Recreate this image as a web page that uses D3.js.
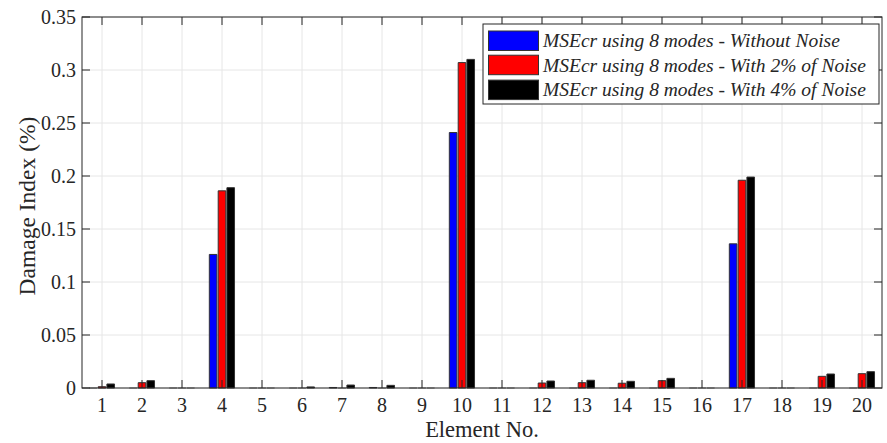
<!DOCTYPE html>
<html>
<head>
<meta charset="utf-8">
<script src="https://cdn.jsdelivr.net/npm/d3@7"></script>
<style>
  html, body { margin: 0; padding: 0; background: #fff; }
  svg { display: block; }
  svg text { font-family: 'Liberation Serif', Tinos, 'DejaVu Serif', serif; }
</style>
</head>
<body>
<svg id="chart" width="887" height="443"></svg>
<script>
// Damage index per element, three identification cases
const elements = d3.range(1, 21);
const withoutNoise = [0, 0, 0, 0.126, 0, 0, 0.0005, 0.0005, 0, 0.241, 0, 0, 0, 0, 0, 0, 0.136, 0, 0, 0];
const noise2 = [0.0012, 0.005, 0, 0.186, 0, 0, 0, 0, 0, 0.307, 0, 0.0047, 0.005, 0.0045, 0.0069, 0, 0.196, 0, 0.011, 0.0135];
const noise4 = [0.0038, 0.0069, 0, 0.189, 0, 0.001, 0.0028, 0.0025, 0, 0.310, 0, 0.0066, 0.0073, 0.0063, 0.0091, 0, 0.199, 0, 0.0132, 0.0154];
const seriesNames = [
  "MSEcr using 8 modes - Without Noise",
  "MSEcr using 8 modes - With 2% of Noise",
  "MSEcr using 8 modes - With 4% of Noise"
];
const seriesColors = ["#0000ff", "#ff0000", "#000000"];
const yTicks = [0, 0.05, 0.1, 0.15, 0.2, 0.25, 0.3, 0.35];
const seriesValues = [withoutNoise, noise2, noise4];

const FONT = "'Liberation Serif', Tinos, 'DejaVu Serif', serif";
const svg = d3.select("#chart");
const m = { left: 82, right: 882, top: 17, bottom: 388 };
const axisColor = "#262626";

const x = d3.scaleLinear().domain([0.5, 20.5]).range([m.left, m.right]);
const y = d3.scaleLinear().domain([0, 0.35]).range([m.bottom, m.top]);

// grid
const grid = svg.append("g");
grid.selectAll(".gx").data(elements).join("line")
  .attr("x1", d => x(d)).attr("x2", d => x(d))
  .attr("y1", m.top).attr("y2", m.bottom)
  .attr("stroke", "#e6e6e6").attr("stroke-width", 1);
grid.selectAll(".gy").data(yTicks).join("line")
  .attr("x1", m.left).attr("x2", m.right)
  .attr("y1", d => y(d)).attr("y2", d => y(d))
  .attr("stroke", "#e6e6e6").attr("stroke-width", 1);

// grouped bars
const offsets = [-0.222, 0, 0.218];
const barW = 0.19;
seriesValues.forEach((vals, s) => {
  svg.append("g").selectAll("path").data(vals).join("path")
    .attr("d", (v, i) => {
      const c = elements[i] + offsets[s];
      const x0 = x(c - barW / 2), x1 = x(c + barW / 2);
      const y0 = y(0), y1 = y(v);
      return `M${x0},${y0}V${y1}H${x1}V${y0}Z`;
    })
    .attr("fill", seriesColors[s])
    .attr("stroke", v => v === 0 ? "#9a9a9a" : "#333")
    .attr("stroke-width", 1);
});

// axes (ticks pointing inward, box around the plot)
const tickLen = 8;
const ax = svg.append("g").attr("stroke", axisColor).attr("stroke-width", 1);
ax.append("rect")
  .attr("x", m.left).attr("y", m.top)
  .attr("width", m.right - m.left).attr("height", m.bottom - m.top)
  .attr("fill", "none");
elements.forEach(d => {
  ax.append("line").attr("x1", x(d)).attr("x2", x(d)).attr("y1", m.bottom).attr("y2", m.bottom - tickLen);
  ax.append("line").attr("x1", x(d)).attr("x2", x(d)).attr("y1", m.top).attr("y2", m.top + tickLen);
});
yTicks.forEach(d => {
  ax.append("line").attr("x1", m.left).attr("x2", m.left + tickLen).attr("y1", y(d)).attr("y2", y(d));
  ax.append("line").attr("x1", m.right).attr("x2", m.right - tickLen).attr("y1", y(d)).attr("y2", y(d));
});

// tick labels
svg.append("g").selectAll("text").data(elements).join("text")
  .attr("x", d => x(d)).attr("y", m.bottom + 24)
  .attr("text-anchor", "middle").attr("font-size", 20).attr("fill", axisColor)
  .attr("font-family", FONT)
  .text(d => d);
svg.append("g").selectAll("text").data(yTicks).join("text")
  .attr("x", m.left - 6).attr("y", d => y(d)).attr("dy", "0.35em")
  .attr("text-anchor", "end").attr("font-size", 20).attr("fill", axisColor)
  .attr("font-family", FONT)
  .text(d => d3.format("~g")(d));

// axis titles
svg.append("text")
  .attr("x", 482).attr("y", 437)
  .attr("text-anchor", "middle").attr("font-size", 22.5).attr("fill", axisColor)
  .attr("font-family", FONT)
  .text("Element No.");
svg.append("text")
  .attr("transform", "translate(35,206) rotate(-90)")
  .attr("text-anchor", "middle").attr("font-size", 23.5).attr("fill", axisColor)
  .attr("font-family", FONT)
  .text("Damage Index (%)");

// legend
const lg = svg.append("g");
lg.append("rect")
  .attr("x", 483).attr("y", 24).attr("width", 396).attr("height", 80)
  .attr("fill", "#fff").attr("stroke", axisColor).attr("stroke-width", 1);
const rows = [40.5, 64.7, 89.6];
seriesNames.forEach((name, i) => {
  lg.append("rect")
    .attr("x", 488.5).attr("y", rows[i] - 9.5).attr("width", 50).attr("height", 19.5)
    .attr("fill", seriesColors[i]).attr("stroke", "#333");
  lg.append("text")
    .attr("x", 543).attr("y", rows[i]).attr("dy", "0.35em")
    .attr("font-size", 19.5).attr("font-style", "italic").attr("fill", axisColor)
    .attr("font-family", FONT)
    .text(name);
});
</script>
</body>
</html>
